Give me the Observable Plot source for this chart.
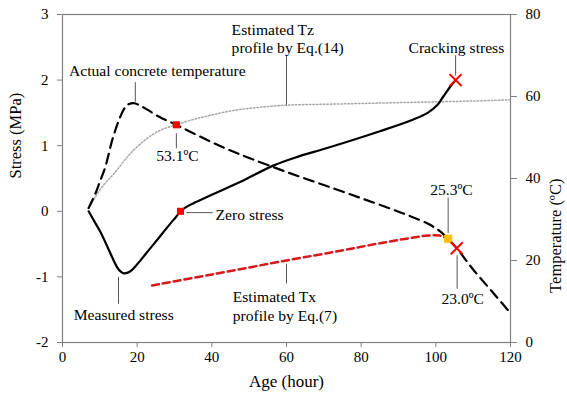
<!DOCTYPE html>
<html><head><meta charset="utf-8">
<script src="https://cdn.jsdelivr.net/npm/d3@7"></script>
<script src="https://cdn.jsdelivr.net/npm/@observablehq/plot@0.6"></script>
<style>
body{margin:0;background:#fff;font-family:"Liberation Serif","Times New Roman",serif;}
#chart svg, #chart svg text{font-family:"Liberation Serif","Times New Roman",serif !important;}
</style>
</head><body><div id="chart"></div>
<script>
// ---- tick values ----
const xTicks = [0, 20, 40, 60, 80, 100, 120];
const stressTicks = [-2, -1, 0, 1, 2, 3];
const tempTicks = [0, 20, 40, 60, 80];

// ---- measured stress (MPa) ----
const stressHours  = [7, 8.5, 10.2, 12.9, 14.6, 15.6, 16.4, 17.5, 18.5, 19.5, 21, 23, 25, 27, 29, 30.5, 31.6, 33, 35, 38.8, 43, 47.7, 56.6, 62.9, 70, 76.3, 85, 94, 97.8, 100.4, 102, 104, 105.3];
const stressValues = [0, -0.15, -0.32, -0.65, -0.85, -0.92, -0.945, -0.935, -0.9, -0.84, -0.74, -0.6, -0.46, -0.32, -0.18, -0.08, 0, 0.06, 0.12, 0.22, 0.33, 0.45, 0.7, 0.83, 0.95, 1.06, 1.22, 1.4, 1.5, 1.62, 1.75, 1.91, 2.0];

// ---- actual concrete temperature (°C) ----
const tempHours  = [7, 8.8, 10, 11.5, 13.3, 15.1, 16.5, 17.3, 19.1, 20.5, 22.7, 26, 30.5, 36, 43, 50, 60, 70, 80, 90, 97.8, 101, 103.3, 105.6, 110, 115, 119.5];
const tempValues = [32.8, 36.3, 39.2, 42.9, 49.3, 54.2, 57.0, 57.9, 58.4, 57.9, 56.8, 55.0, 53.1, 50.6, 47.6, 45.0, 41.6, 38.4, 35.2, 31.9, 29.0, 27.2, 25.3, 23.0, 17.8, 12.5, 7.7];

// ---- estimated Tz profile by Eq.(14) (°C) ----
const tzHours  = [7, 8.8, 11, 13.7, 18.2, 22.7, 26.3, 30.5, 35, 40, 45.8, 52, 60.2, 70, 80, 90, 100, 110, 120];
const tzValues = [32.8, 35.5, 38.4, 41.1, 46.1, 49.8, 51.8, 53.1, 54.4, 55.5, 56.6, 57.3, 57.9, 58.1, 58.3, 58.5, 58.7, 58.9, 59.2];

// ---- estimated Tx profile by Eq.(7) (°C) ----
const txHours  = [24, 40, 60, 74.5, 85, 94, 98, 101, 103.3];
const txValues = [13.9, 16.6, 20.0, 22.4, 24.2, 25.6, 26.1, 26.1, 25.3];

// ---- markers ----
const redSquares = [{hour: 31.6, stress: 0}, {hour: 30.5, temp: 53.1}];
const yellowSquares = [{hour: 103.3, temp: 25.3}];
const redCrosses = [{hour: 105.3, stress: 2.0}, {hour: 105.6, temp: 23.0}];

// ---- annotations (anchored in data units: hour, stress) ----
const labels = [
  {text: "Actual concrete temperature", hour: 25.4, stress: 2.14, anchor: "middle"},
  {text: "Estimated Tz", hour: 45.3, stress: 2.77, anchor: "start"},
  {text: "profile by Eq.(14)", hour: 45.3, stress: 2.49, anchor: "start"},
  {text: "Cracking stress", hour: 105.5, stress: 2.49, anchor: "middle"},
  {text: "53.1ºC", hour: 30.8, stress: 0.85, anchor: "middle"},
  {text: "Zero stress", hour: 41.0, stress: -0.06, anchor: "start"},
  {text: "Measured stress", hour: 16.4, stress: -1.58, anchor: "middle"},
  {text: "Estimated Tx", hour: 45.6, stress: -1.30, anchor: "start"},
  {text: "profile by Eq.(7)", hour: 45.6, stress: -1.60, anchor: "start"},
  {text: "25.3ºC", hour: 104.2, stress: 0.32, anchor: "middle"},
  {text: "23.0ºC", hour: 107.2, stress: -1.33, anchor: "middle"}
];
const leaders = [
  {h1: 19.5, s1: 1.97, h2: 19.5, s2: 1.67},
  {h1: 60.0, s1: 2.38, h2: 60.0, s2: 1.61},
  {h1: 105.3, s1: 2.38, h2: 105.3, s2: 2.07},
  {h1: 30.5, s1: 1.19, h2: 30.5, s2: 0.96},
  {h1: 33.2, s1: -0.02, h2: 40.2, s2: -0.02},
  {h1: 15.0, s1: -1.0, h2: 15.0, s2: -1.41},
  {h1: 60.0, s1: -0.80, h2: 60.0, s2: -1.10},
  {h1: 103.3, s1: 0.21, h2: 103.3, s2: -0.33},
  {h1: 105.7, s1: -0.67, h2: 105.7, s2: -1.18}
];

// temperature (0..80 °C) mapped onto the stress axis (-2..3 MPa)
const toS = t => -2 + t * 5 / 80;
const toT = s => Math.round((s + 2) * 16);

const stressData = stressHours.map((h, i) => ({hour: h, y: stressValues[i]}));
const tempData = tempHours.map((h, i) => ({hour: h, y: toS(tempValues[i])}));
const tzData = tzHours.map((h, i) => ({hour: h, y: toS(tzValues[i])}));
const txData = txHours.map((h, i) => ({hour: h, y: toS(txValues[i])}));
const yOf = d => d.stress !== undefined ? d.stress : toS(d.temp);

const font = "Liberation Serif, Times New Roman, serif";
const axisGray = "#808080";

const chart = Plot.plot({
  width: 567, height: 400,
  marginLeft: 62, marginRight: 57, marginTop: 14, marginBottom: 58,
  style: {fontFamily: font, fontSize: "15px", background: "#fff", color: "#000"},
  x: {domain: [0, 120]},
  y: {domain: [-2, 3]},
  marks: [
    Plot.frame({stroke: axisGray, strokeWidth: 1.2}),
    Plot.axisX({ticks: xTicks, tickSize: 5, tickPadding: 4, stroke: axisGray, fill: "#000", label: null, tickFormat: d => String(d)}),
    Plot.axisY({anchor: "left", ticks: stressTicks, tickSize: 5, tickPadding: 9, stroke: axisGray, fill: "#000", label: null, tickFormat: d => String(d)}),
    Plot.axisY({anchor: "right", ticks: tempTicks.map(toS), tickSize: 6, tickPadding: 9, stroke: axisGray, fill: "#000", label: null, tickFormat: d => String(toT(d))}),
    Plot.text(["Age (hour)"], {frameAnchor: "bottom", dy: 44, text: d => d, fontSize: 17}),
    Plot.text(["Stress (MPa)"], {frameAnchor: "left", dx: -47, rotate: -90, text: d => d, fontSize: 16.5}),
    Plot.text(["Temperature (ºC)"], {frameAnchor: "right", dx: 45, rotate: -90, text: d => d, fontSize: 16.5}),
    // leader lines
    Plot.link(leaders, {x1: "h1", y1: "s1", x2: "h2", y2: "s2", stroke: "#555", strokeWidth: 1}),
    // curves
    Plot.line(tzData, {x: "hour", y: "y", stroke: "#a6a6a6", strokeWidth: 1.5, strokeDasharray: "1.5,2", curve: "catmull-rom"}),
    Plot.line(txData, {x: "hour", y: "y", stroke: "#d7191c", strokeWidth: 2.5, strokeDasharray: "7,4", curve: "catmull-rom"}),
    Plot.line(tempData, {x: "hour", y: "y", stroke: "#000", strokeWidth: 2.2, strokeDasharray: "10,6", curve: "catmull-rom"}),
    Plot.line(stressData, {x: "hour", y: "y", stroke: "#000", strokeWidth: 2.2, curve: "catmull-rom"}),
    // markers
    Plot.dot(redSquares, {x: "hour", y: yOf, symbol: "square", r: 4, fill: "#ff0000", stroke: "none"}),
    Plot.dot(yellowSquares, {x: "hour", y: yOf, symbol: "square", r: 4.6, fill: "#ffc000", stroke: "none"}),
    Plot.dot(redCrosses, {x: "hour", y: yOf, symbol: "times", r: 5.5, stroke: "#ff0000", strokeWidth: 2}),
    // labels
    Plot.text(labels.filter(d => d.anchor === "middle"), {x: "hour", y: "stress", text: "text", textAnchor: "middle", fill: "#000", fontSize: 15.6}),
    Plot.text(labels.filter(d => d.anchor === "start"), {x: "hour", y: "stress", text: "text", textAnchor: "start", fill: "#000", fontSize: 15.6})
  ]
});
document.getElementById("chart").appendChild(chart);
</script>
</body></html>
